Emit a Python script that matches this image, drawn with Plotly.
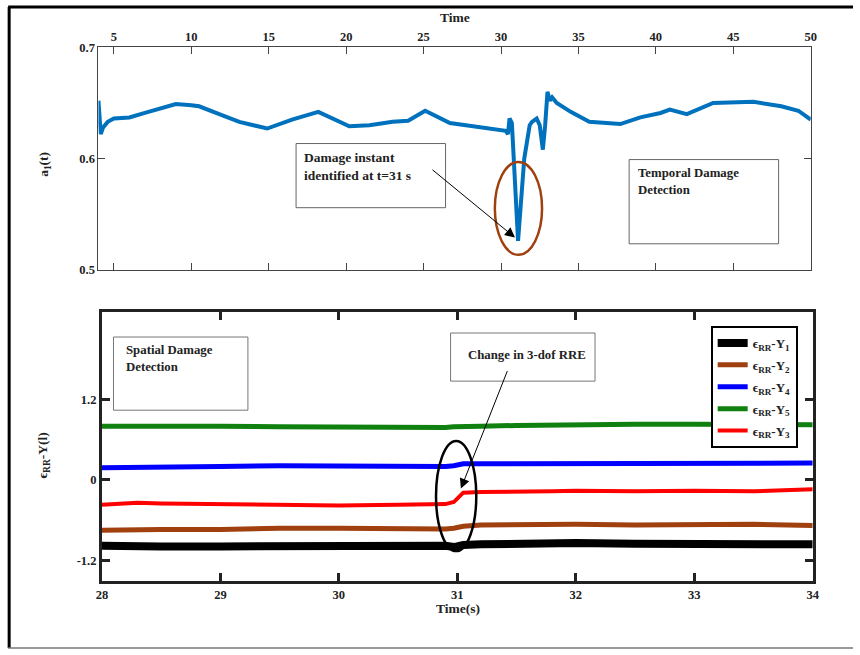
import plotly.graph_objects as go

# ---------------- data ----------------
t_top = [4.0, 4.15, 4.3, 4.6, 5.0, 6.0, 7.0, 8.0, 9.0, 10.0, 10.5, 11.8, 13.1, 14.9,
         16.5, 18.2, 20.2, 21.5, 23.0, 24.0, 25.1, 26.7, 28.4, 30.3, 30.45, 30.55,
         30.7, 31.1, 31.5, 31.85, 32.0, 32.3, 32.5, 32.7, 32.85, 33.0, 33.15, 33.3,
         33.6, 34.5, 35.7, 37.7, 39.0, 40.3, 40.9, 42.0, 43.7, 46.3, 48.1, 49.2, 50.0]
a1_top = [0.652, 0.622, 0.628, 0.633, 0.636, 0.637, 0.641, 0.645, 0.649, 0.648, 0.647,
          0.640, 0.633, 0.627, 0.635, 0.642, 0.629, 0.630, 0.633, 0.634, 0.643, 0.632,
          0.629, 0.625, 0.622, 0.636, 0.632, 0.526, 0.600, 0.630, 0.633, 0.636, 0.630,
          0.608, 0.630, 0.660, 0.652, 0.655, 0.650, 0.642, 0.633, 0.631, 0.637, 0.641,
          0.644, 0.640, 0.650, 0.651, 0.647, 0.643, 0.635]

t_bot = [28.0, 28.3, 28.5, 29.0, 29.5, 30.0, 30.5, 30.9, 30.97, 31.05, 31.2, 31.5,
         31.8, 32.0, 32.5, 33.0, 33.5, 34.0]
y1 = [-0.98, -1.00, -0.99, -0.99, -0.98, -0.98, -0.98, -0.98, -1.00, -0.97, -0.96,
      -0.95, -0.95, -0.94, -0.95, -0.96, -0.96, -0.96]
y2 = [-0.75, -0.74, -0.74, -0.74, -0.72, -0.72, -0.73, -0.73, -0.72, -0.69, -0.67,
      -0.66, -0.66, -0.66, -0.67, -0.67, -0.66, -0.68]
y4 = [0.18, 0.19, 0.19, 0.20, 0.21, 0.20, 0.20, 0.20, 0.21, 0.24, 0.24, 0.24,
      0.24, 0.25, 0.25, 0.24, 0.25, 0.25]
y5 = [0.80, 0.80, 0.81, 0.80, 0.79, 0.78, 0.78, 0.78, 0.79, 0.79, 0.80, 0.81,
      0.82, 0.82, 0.83, 0.83, 0.82, 0.82]
y3 = [-0.37, -0.34, -0.35, -0.36, -0.38, -0.38, -0.37, -0.36, -0.33, -0.19, -0.18,
      -0.18, -0.17, -0.16, -0.17, -0.16, -0.17, -0.14]

top_xticks = [5, 10, 15, 20, 25, 30, 35, 40, 45, 50]
top_yticks = [0.5, 0.6, 0.7]
bot_xticks = [28, 29, 30, 31, 32, 33, 34]
bot_yticks = [-1.2, 0, 1.2]
bot_yticklabels = ["-1.2", "0", "1.2"]

series = [
    ("ϵ<sub>RR</sub>-Y<sub>1</sub>", y1, "black", 8),
    ("ϵ<sub>RR</sub>-Y<sub>2</sub>", y2, "#A0400F", 5),
    ("ϵ<sub>RR</sub>-Y<sub>4</sub>", y4, "#0000FF", 5),
    ("ϵ<sub>RR</sub>-Y<sub>5</sub>", y5, "#108010", 5),
    ("ϵ<sub>RR</sub>-Y<sub>3</sub>", y3, "#FF0000", 4),
]

# The photographed page includes the 8px body margin and is scaled into 860x655;
# convert target-picture pixel positions into figure-paper fractions accordingly.
W, H = 860, 655
OFF = 8
SX, SY = 860 / 876, 655 / 671
def px(x): return (x / SX - OFF) / W
def py(y): return 1 - (y / SY - OFF) / H

FONT = "Liberation Serif"

fig = go.Figure()
fig.add_trace(go.Scatter(x=t_top, y=a1_top, mode="lines", xaxis="x", yaxis="y",
                         line=dict(color="rgb(0,114,189)", width=4),
                         showlegend=False))
for i, (name, vals, col, w) in enumerate(series):
    fig.add_trace(go.Scatter(x=t_bot, y=vals, mode="lines", xaxis="x2", yaxis="y2",
                             name=name, legendgroup=f"g{i}",
                             line=dict(color=col, width=w)))

tickfont = dict(family=FONT, size=12.5, color="#222", weight="bold")

fig.update_layout(
    width=W, height=H, margin=dict(l=0, r=0, t=0, b=0),
    paper_bgcolor="white", plot_bgcolor="white",
    font=dict(family=FONT, color="black"),
    xaxis=dict(domain=[px(100), px(810)], range=[4.0, 50], side="top",
               tickvals=top_xticks, ticks="inside", ticklen=7, tickcolor="#444",
               showline=True, linecolor="#444", linewidth=1, mirror="ticks",
               showgrid=False, zeroline=False, tickfont=tickfont, anchor="y"),
    yaxis=dict(domain=[py(270), py(48)], range=[0.5, 0.7], tickvals=top_yticks,
               ticktext=["0.5", "0.6", "0.7"],
               ticks="inside", ticklen=7, tickcolor="#444", showline=True,
               linecolor="#444", linewidth=1, mirror="ticks", showgrid=False,
               zeroline=False, tickfont=tickfont, anchor="x"),
    xaxis2=dict(domain=[px(103.5), px(812)], range=[28, 34], tickvals=bot_xticks,
                ticks="inside", ticklen=8, tickwidth=3, tickcolor="#222",
                showline=True, linecolor="#222", linewidth=3, mirror="ticks",
                showgrid=False, zeroline=False, tickfont=tickfont, anchor="y2"),
    yaxis2=dict(domain=[py(580), py(312)], range=[-1.5, 2.5], tickvals=bot_yticks,
                ticktext=bot_yticklabels, ticks="inside", ticklen=8, tickwidth=3,
                tickcolor="#222", showline=True, linecolor="#222", linewidth=3,
                mirror="ticks", showgrid=False, zeroline=False, tickfont=tickfont,
                anchor="x2"),
    legend=dict(x=px(797), y=py(326), xanchor="right", yanchor="top",
                bgcolor="white", bordercolor="black", borderwidth=2,
                font=dict(family=FONT, size=13, color="#222", weight="bold"),
                tracegroupgap=2, itemwidth=30),
)

shapes = [
    # outer frame
    dict(type="line", xref="paper", yref="paper", x0=px(11), x1=px(11), y0=0, y1=1,
         line=dict(color="black", width=3)),
    dict(type="line", xref="paper", yref="paper", x0=px(10), x1=1, y0=1, y1=1,
         line=dict(color="black", width=3)),
    dict(type="line", xref="paper", yref="paper", x0=px(10), x1=1, y0=0, y1=0,
         line=dict(color="#777", width=1.5)),
    # text boxes
    dict(type="rect", xref="paper", yref="paper", x0=px(297), x1=px(446), y0=py(208), y1=py(144),
         line=dict(color="#666", width=1), fillcolor="rgba(0,0,0,0)"),
    dict(type="rect", xref="paper", yref="paper", x0=px(629), x1=px(778), y0=py(244), y1=py(160),
         line=dict(color="#666", width=1), fillcolor="rgba(0,0,0,0)"),
    dict(type="rect", xref="paper", yref="paper", x0=px(115), x1=px(249), y0=py(410), y1=py(337),
         line=dict(color="#777", width=1), fillcolor="white"),
    dict(type="rect", xref="paper", yref="paper", x0=px(451), x1=px(595), y0=py(381), y1=py(333),
         line=dict(color="#777", width=1), fillcolor="white"),
    # ellipses
    dict(type="circle", xref="x", yref="y", x0=29.6, x1=32.65, y0=0.5135, y1=0.597,
         line=dict(color="#A0400F", width=2.5)),
    dict(type="circle", xref="x2", yref="y2", x0=30.82, x1=31.16, y0=-1.06, y1=0.58,
         line=dict(color="black", width=2.5)),
]
fig.update_layout(shapes=shapes)

bold = dict(family=FONT, size=13.5, color="#222", weight="bold")
boxfont = dict(family=FONT, size=12.8, color="#222", weight="bold")
ann = [
    dict(text="Time", xref="paper", yref="paper", x=px(455), y=py(18), showarrow=False,
         font=bold, xanchor="center", yanchor="middle"),
    dict(text="Time(s)", xref="paper", yref="paper", x=px(458), y=py(608), showarrow=False,
         font=bold, xanchor="center", yanchor="middle"),
    dict(text="a<sub>1</sub>(t)", xref="paper", yref="paper", x=px(46), y=py(165),
         showarrow=False, font=bold, textangle=-90, xanchor="center", yanchor="middle"),
    dict(text="ϵ<sub>RR</sub>-Y(l)", xref="paper", yref="paper", x=px(45), y=py(455),
         showarrow=False, font=bold, textangle=-90, xanchor="center", yanchor="middle"),
    dict(text="Damage instant<br>identified at t=31 s", xref="paper", yref="paper",
         x=px(303), y=py(148), showarrow=False, font=bold, align="left",
         xanchor="left", yanchor="top"),
    dict(text="Temporal Damage<br>Detection", xref="paper", yref="paper",
         x=px(636), y=py(164), showarrow=False, font=boxfont, align="left",
         xanchor="left", yanchor="top"),
    dict(text="Spatial Damage<br>Detection", xref="paper", yref="paper",
         x=px(125), y=py(341), showarrow=False, font=boxfont, align="left",
         xanchor="left", yanchor="top"),
    dict(text="Change in 3-dof RRE", xref="paper", yref="paper",
         x=px(466), y=py(355), showarrow=False, font=boxfont, align="left",
         xanchor="left", yanchor="middle"),
    # arrows
    dict(text="", xref="x", yref="y", x=30.9, y=0.529, ax=-84, ay=-69, showarrow=True,
         arrowhead=2, arrowsize=2, arrowwidth=1, arrowcolor="black"),
    dict(text="", xref="x2", yref="y2", x=31.03, y=-0.13, ax=47, ay=-119, showarrow=True,
         arrowhead=2, arrowsize=2, arrowwidth=1, arrowcolor="black"),
]
fig.update_layout(annotations=ann)

fig.write_html("out.html")
